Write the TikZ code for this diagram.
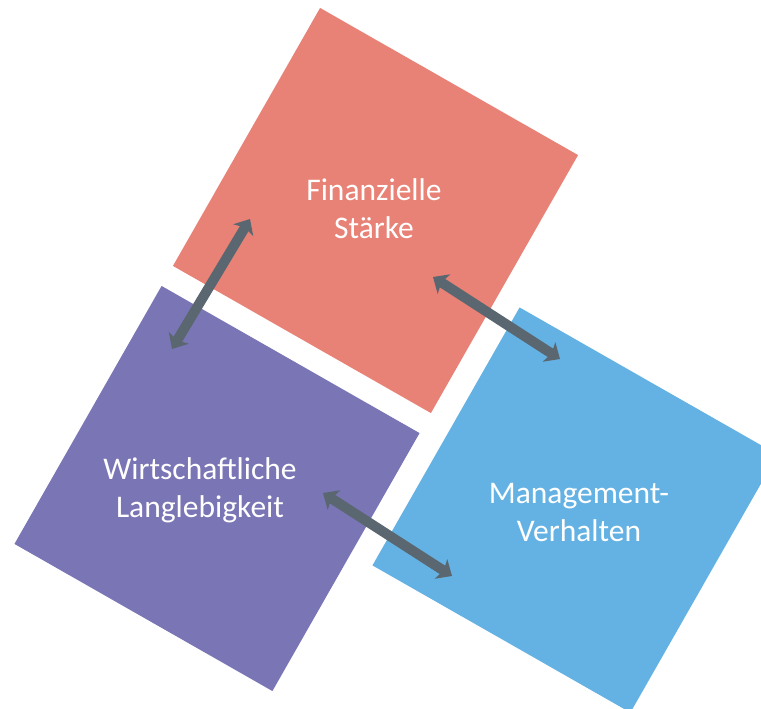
\documentclass[tikz,border=0pt]{standalone}
\usepackage{fontspec}
\setmainfont{Carlito}
\usetikzlibrary{arrows.meta,positioning}
\definecolor{boxred}{RGB}{232,130,118}
\definecolor{boxpurple}{RGB}{122,117,181}
\definecolor{boxblue}{RGB}{100,178,227}
\definecolor{arrowgray}{RGB}{91,103,112}

\begin{document}
\begin{tikzpicture}[x=1pt,y=-1pt,
    boxstyle/.style={minimum size=297pt,inner sep=0,rotate=-29.7},
    labelstyle/.style={text=white,align=center,font=\fontsize{31.5}{38}\selectfont},
    arrowstyle/.style={draw=arrowgray,line width=10pt,
        {Stealth[length=13pt,width=23pt,inset=3pt]}-{Stealth[length=13pt,width=23pt,inset=3pt]}}]
    \clip (0,0) rectangle (761,709);
    % the three squares
    \foreach \name/\pos/\c in {fin/{(375.5,210.5)}/boxred,wirt/{(217,488.5)}/boxpurple,man/{(575,510)}/boxblue} {
        \node[boxstyle, fill=\c] (\name) at \pos {};
    }
    % labels
    \node[labelstyle] (fin-text) at (374,209) {Finanzielle\\Stärke};
    \node[labelstyle] (wirt-text) at (200,490) {Wirtschaftliche\\Langlebigkeit};
    \node[labelstyle] (man-text) at (579,513) {Management-\\Verhalten};
    % arrow ends
    \coordinate (fin-a) at (250,219);
    \coordinate (wirt-a) at (172,349);
    \coordinate (fin-b) at (433,277);
    \coordinate (man-a) at (560,359);
    \coordinate (wirt-b) at (323,493);
    \coordinate (man-b) at (452,576);
    \draw[arrowstyle] (fin-a) -- (wirt-a);
    \draw[arrowstyle] (fin-b) -- (man-a);
    \draw[arrowstyle] (wirt-b) -- (man-b);
\end{tikzpicture}
\end{document}
